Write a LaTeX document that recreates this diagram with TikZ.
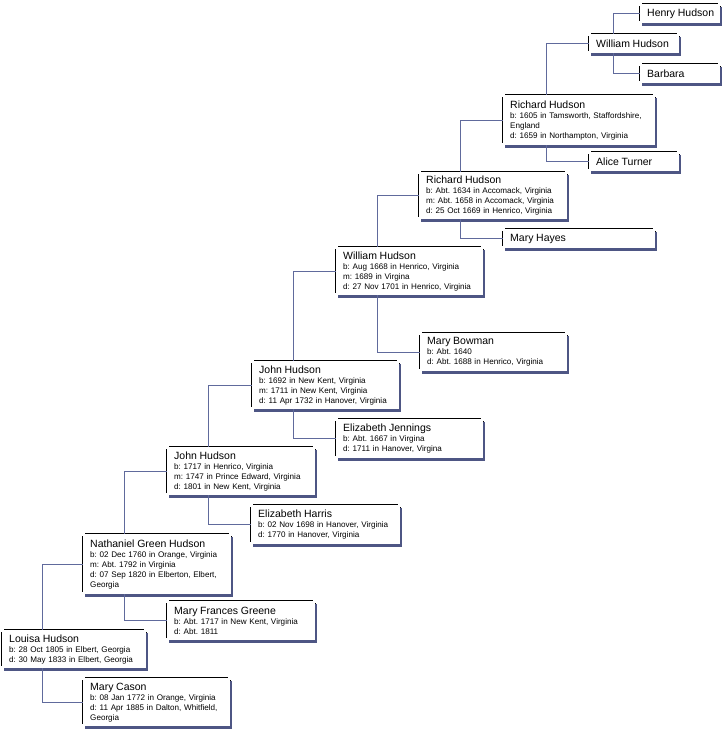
\documentclass[tikz,border=0pt]{standalone}
\usepackage{fontspec}
\setmainfont{Liberation Sans}
\usetikzlibrary{calc,shadows}
\definecolor{linkc}{RGB}{96,106,156}
\definecolor{shadowc}{RGB}{78,86,132}
\newcommand\pname[1]{\mbox{\fontsize{10.5}{13}\selectfont #1}}
\tikzset{
  notched/.style={append after command={\pgfextra{\draw[line width=1.1pt]
    ([yshift=-2.5pt]\tikzlastnode.north west) -- ++(2.5pt,0pt) -- ++(0pt,2.5pt) -- ([xshift=-2.5pt]\tikzlastnode.north east) -- ++(0pt,-2.5pt) -- ++(2.5pt,0pt)
    -- ([yshift=2.5pt]\tikzlastnode.south east) -- ++(-2.5pt,0pt) -- ++(0pt,-2.5pt) -- ([xshift=2.5pt]\tikzlastnode.south west) -- ++(0pt,2.5pt) -- ++(-2.5pt,0pt) -- cycle;}}},
  person/.style={rectangle,fill=white,anchor=north west,align=left,inner xsep=7pt,inner ysep=2pt,font=\fontsize{8.1}{10}\selectfont\frenchspacing,
    general shadow={fill=shadowc,shadow xshift=1.5pt,shadow yshift=-3pt},notched},
  link/.style={linkc,line width=1pt},
}
\begin{document}
\begin{tikzpicture}[x=1pt,y=-1pt,line join=miter]
\useasboundingbox (0,0) rectangle (721,729);
\foreach \n/\x/\y/\w/\h/\t in {
 henry/640/4/66/19/{\pname{Henry Hudson}},
 wtop/589/34/76/19/{\pname{William Hudson}},
 barbara/640/64/66/19/{\pname{Barbara}},
 rich1/503/95/138/50/{\pname{Richard Hudson}\\b: 1605 in Tamsworth, Staffordshire,\\England\\d: 1659 in Northampton, Virginia},
 alice/589/152/76/19/{\pname{Alice Turner}},
 rich2/419/172/134/47/{\pname{Richard Hudson}\\b: Abt. 1634 in Accomack, Virginia\\m: Abt. 1658 in Accomack, Virginia\\d: 25 Oct 1669 in Henrico, Virginia},
 hayes/503/229/138/19/{\pname{Mary Hayes}},
 will/336/247/133/48/{\pname{William Hudson}\\b: Aug 1668 in Henrico, Virginia\\m: 1689 in Virgina\\d: 27 Nov 1701 in Henrico, Virginia},
 bowman/420/333/133/38/{\pname{Mary Bowman}\\b: Abt. 1640\\d: Abt. 1688 in Henrico, Virginia},
 john1/252/361/133/48/{\pname{John Hudson}\\b: 1692 in New Kent, Virginia\\m: 1711 in New Kent, Virginia\\d: 11 Apr 1732 in Hanover, Virginia},
 jennings/336/419/133/39/{\pname{Elizabeth Jennings}\\b: Abt. 1667 in Virgina\\d: 1711 in Hanover, Virgina},
 john2/167/447/134/48/{\pname{John Hudson}\\b: 1717 in Henrico, Virginia\\m: 1747 in Prince Edward, Virginia\\d: 1801 in New Kent, Virginia},
 harris/251/505/135/39/{\pname{Elizabeth Harris}\\b: 02 Nov 1698 in Hanover, Virginia\\d: 1770 in Hanover, Virginia},
 nath/83/534/134/60/{\pname{Nathaniel Green Hudson}\\b: 02 Dec 1760 in Orange, Virginia\\m: Abt. 1792 in Virginia\\d: 07 Sep 1820 in Elberton, Elbert,\\Georgia},
 greene/167/601/134/39/{\pname{Mary Frances Greene}\\b: Abt. 1717 in New Kent, Virginia\\d: Abt. 1811},
 louisa/2/630/130/38/{\pname{Louisa Hudson}\\b: 28 Oct 1805 in Elbert, Georgia\\d: 30 May 1833 in Elbert, Georgia},
 cason/83/678/133/48/{\pname{Mary Cason}\\b: 08 Jan 1772 in Orange, Virginia\\d: 11 Apr 1885 in Dalton, Whitfield,\\Georgia}}
 \node[person,text width=\w pt,minimum height=\h pt] (\n) at (\x,\y) {\t};
\foreach \c/\f/\m/\o in {wtop/henry/barbara/24,rich1/wtop/alice/43,rich2/rich1/hayes/41,will/rich2/bowman/41,john1/will/jennings/41,john2/john1/harris/41,nath/john2/greene/41,louisa/nath/cason/40}
 \draw[link] (\f.west) -| ($(\c.north west)+(\o,0)$) ($(\c.south west)+(\o,0)$) |- (\m.west);
\end{tikzpicture}
\end{document}
